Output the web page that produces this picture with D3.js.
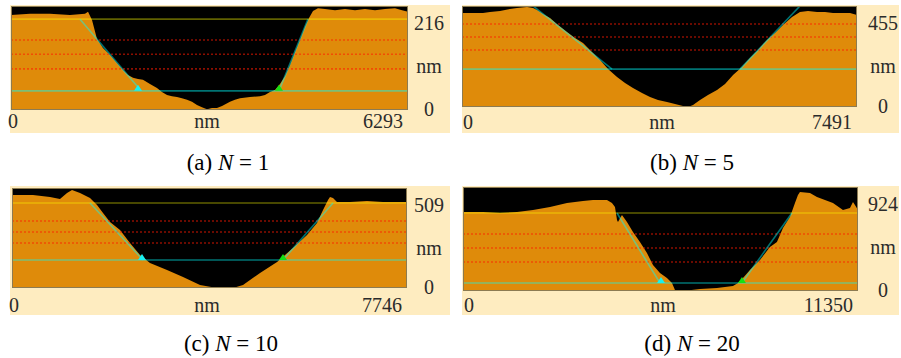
<!DOCTYPE html>
<html><head><meta charset="utf-8">
<script src="https://cdn.jsdelivr.net/npm/d3@7"></script>
<style>html,body{margin:0;padding:0;background:#fff;}svg{display:block;}</style>
</head><body>
<script>
// ---------- data ----------
const panelLetters = ["a", "b", "c", "d"];
const nValues = [1, 5, 10, 20];
const xMaxLabels = [6293, 7491, 7746, 11350];
const yMaxLabels = [216, 455, 509, 924];
const unitLabel = "nm";

// depth profiles: [position nm, height nm]
const profileA = [[0,233],[301,236],[618,236],[935,233],[1173,236],[1221,241],[1284,221],[1363,174],[1458,152],[1569,135],[1680,115],[1775,98],[1854,86],[1934,79],[2013,76],[2092,74],[2203,64],[2314,54],[2393,44],[2473,37],[2552,34],[2631,32],[2710,29],[2790,25],[2869,20],[2948,12],[3027,7],[3107,2],[3186,5],[3265,5],[3345,10],[3471,20],[3550,25],[3630,29],[3788,32],[3947,34],[4026,37],[4105,44],[4185,49],[4264,64],[4343,83],[4422,110],[4502,142],[4581,172],[4660,204],[4724,226],[4787,243],[4866,250],[4977,248],[5136,245],[5294,248],[5453,245],[5611,248],[5770,245],[5928,248],[6087,250],[6198,245],[6293,241]];
const profileB = [[0,503],[152,503],[398,503],[531,509],[721,514],[910,525],[1043,530],[1233,535],[1347,530],[1422,519],[1536,498],[1669,476],[1821,439],[1991,401],[2143,369],[2295,343],[2465,294],[2617,252],[2769,203],[2940,161],[3092,128],[3243,102],[3414,75],[3566,54],[3717,37],[3888,27],[4040,16],[4191,5],[4286,0],[4381,11],[4514,37],[4665,64],[4836,91],[4988,123],[5140,171],[5310,214],[5462,262],[5614,305],[5785,359],[5936,396],[6088,439],[6259,482],[6410,509],[6562,514],[6733,509],[6885,509],[7036,503],[7207,503],[7359,503],[7491,492]];
const profileC = [[0,564],[412,564],[745,551],[941,539],[1079,576],[1177,594],[1334,576],[1530,545],[1667,503],[1785,455],[1922,400],[2118,351],[2314,273],[2510,200],[2706,152],[3040,109],[3354,67],[3687,18],[4020,0],[4334,0],[4530,18],[4864,91],[5198,158],[5510,242],[5785,321],[5981,394],[6099,473],[6197,533],[6236,551],[6295,545],[6373,521],[6628,521],[6962,527],[7275,521],[7609,521],[7746,521]];
const profileD = [[0,830],[575,830],[1063,819],[1551,830],[2011,851],[2500,882],[2988,924],[3448,945],[3735,956],[3936,956],[4137,956],[4281,924],[4367,882],[4425,746],[4453,725],[4568,798],[4712,725],[4884,620],[5085,515],[5286,399],[5459,273],[5660,189],[5861,137],[6005,84],[6091,11],[6321,0],[6809,21],[7298,32],[7757,53],[7901,84],[8045,137],[8246,221],[8533,326],[8820,462],[9021,515],[9194,662],[9395,777],[9539,924],[9625,1008],[9682,1040],[9970,1029],[10171,987],[10631,924],[10918,851],[11120,872],[11206,935],[11263,903],[11350,851]];
const profiles = [profileA, profileB, profileC, profileD];

// reference / cursor lines (nm)
const gridLevels = [[172,137,101],[444,375,305],[406,339,273],[599,452,305]];
const upperLevels = [223, null, 515, 819];
const lowerLevels = [47, 203, 170, 84];
const leftCursor = [[[1094,223],[2061,47]], [[1347,541],[2845,203]], [[1530,515],[2569,170]], [[4425,819],[5660,84]]];
const rightCursor = [[[4248,47],[4708,223]], [[5272,203],[6410,541]], [[5314,170],[6295,515]], [[8016,84],[9452,819]]];
const cyanMarkerX = [2013, null, 2549, 5689];
const greenMarkerX = [4248, null, 5314, 8016];

// ---------- layout ----------
const layout = [
  {left:11,  right:408, top:6,   bottom:110, bg:[10,450,5,133],   rLabX:429, nmX:207, botY:121, capX:228, capY:162},
  {left:462, right:857, top:6,   bottom:107, bg:[462,899,5,133],  rLabX:883, nmX:662, botY:122, capX:692, capY:162},
  {left:12,  right:407, top:188, bottom:288, bg:[10,450,186,315], rLabX:429, nmX:207, botY:305, capX:231, capY:343},
  {left:463, right:858, top:187, bottom:291, bg:[462,899,186,315],rLabX:883, nmX:663, botY:305, capX:692, capY:343}
];

const W = 901, H = 358;
const svg = d3.select("body").append("svg").attr("width", W).attr("height", H);
svg.append("rect").attr("width", W).attr("height", H).attr("fill", "#fff");

const ORANGE = "#df8b0a", PALE = "#feecc0", TXT = "#2b2b2b";
const serif = "'Liberation Serif','Times New Roman',serif";

panelLetters.forEach((letter, i) => {
  const L = layout[i];
  const x = d3.scaleLinear().domain([0, xMaxLabels[i]]).range([L.left, L.right]);
  const y = d3.scaleLinear().domain([0, yMaxLabels[i]]).range([L.bottom, L.top + 16]);
  const g = svg.append("g");

  g.append("rect").attr("x", L.bg[0]).attr("y", L.bg[2])
    .attr("width", L.bg[1] - L.bg[0]).attr("height", L.bg[3] - L.bg[2]).attr("fill", PALE);

  const clipId = "clip" + letter;
  svg.append("clipPath").attr("id", clipId).append("rect")
    .attr("x", L.left).attr("y", L.top).attr("width", L.right - L.left).attr("height", L.bottom - L.top);

  const plot = g.append("g").attr("clip-path", `url(#${clipId})`);
  plot.append("rect").attr("x", L.left).attr("y", L.top)
    .attr("width", L.right - L.left).attr("height", L.bottom - L.top).attr("fill", "#000");

  const area = d3.area().x(d => x(d[0])).y0(y(0)).y1(d => y(d[1]));
  plot.append("path").datum(profiles[i]).attr("d", area).attr("fill", ORANGE);

  // red dotted grid
  plot.selectAll("line.grid").data(gridLevels[i]).join("line")
    .attr("x1", L.left).attr("x2", L.right).attr("y1", d => y(d)).attr("y2", d => y(d))
    .attr("stroke", "#ff1a00").attr("stroke-opacity", 0.55).attr("stroke-width", 1.6)
    .attr("stroke-dasharray", "2,2");

  if (upperLevels[i] !== null) {
    plot.append("line").attr("x1", L.left).attr("x2", L.right)
      .attr("y1", y(upperLevels[i])).attr("y2", y(upperLevels[i]))
      .attr("stroke", "#ffff00").attr("stroke-opacity", 0.38).attr("stroke-width", 1.6);
  }
  plot.append("line").attr("x1", L.left).attr("x2", L.right)
    .attr("y1", y(lowerLevels[i])).attr("y2", y(lowerLevels[i]))
    .attr("stroke", "#00ffff").attr("stroke-opacity", 0.45).attr("stroke-width", 1.6);

  const line = d3.line().x(d => x(d[0])).y(d => y(d[1]));
  [leftCursor[i], rightCursor[i]].forEach(seg => {
    plot.append("path").datum(seg).attr("d", line).attr("fill", "none")
      .attr("stroke", "#00ffff").attr("stroke-opacity", 0.45).attr("stroke-width", 1.6);
  });

  const tri = (cx, cy) => `M${cx - 4},${cy} L${cx + 4},${cy} L${cx},${cy - 6} Z`;
  if (cyanMarkerX[i] !== null)
    plot.append("path").attr("d", tri(x(cyanMarkerX[i]), y(lowerLevels[i]))).attr("fill", "#19f0f0");
  if (greenMarkerX[i] !== null)
    plot.append("path").attr("d", tri(x(greenMarkerX[i]), y(lowerLevels[i]))).attr("fill", "#14e014");

  // frame
  g.append("rect").attr("x", L.left + 0.5).attr("y", L.top + 0.5)
    .attr("width", L.right - L.left - 1).attr("height", L.bottom - L.top - 1)
    .attr("fill", "none").attr("stroke", "#8c7b52").attr("stroke-width", 1);

  // right axis labels
  const rl = g.append("g").attr("font-family", serif).attr("font-size", 20).attr("fill", TXT)
    .attr("text-anchor", "middle").attr("dominant-baseline", "central");
  rl.append("text").attr("x", L.rLabX).attr("y", y(yMaxLabels[i]) + 1).text(yMaxLabels[i]);
  rl.append("text").attr("x", L.rLabX).attr("y", L.top + 60).text(unitLabel);
  rl.append("text").attr("x", L.rLabX).attr("y", y(0) - 1).text(0);

  // bottom axis labels
  const bl = g.append("g").attr("font-family", serif).attr("font-size", 20).attr("fill", TXT)
    .attr("dominant-baseline", "central");
  bl.append("text").attr("x", x(0) - (i % 2 === 0 ? 3 : -1)).attr("y", L.botY).attr("text-anchor", "start").text(0);
  bl.append("text").attr("x", L.nmX).attr("y", L.botY).attr("text-anchor", "middle").text(unitLabel);
  bl.append("text").attr("x", x(xMaxLabels[i]) - 5).attr("y", L.botY).attr("text-anchor", "end").text(xMaxLabels[i]);

  // caption
  const cap = g.append("text").attr("x", L.capX).attr("y", L.capY)
    .attr("font-family", serif).attr("font-size", 23).attr("fill", "#000")
    .attr("text-anchor", "middle").attr("dominant-baseline", "central");
  cap.append("tspan").text(`(${letter}) `);
  cap.append("tspan").attr("font-style", "italic").text("N");
  cap.append("tspan").text(` = ${nValues[i]}`);
});
</script>
</body></html>
